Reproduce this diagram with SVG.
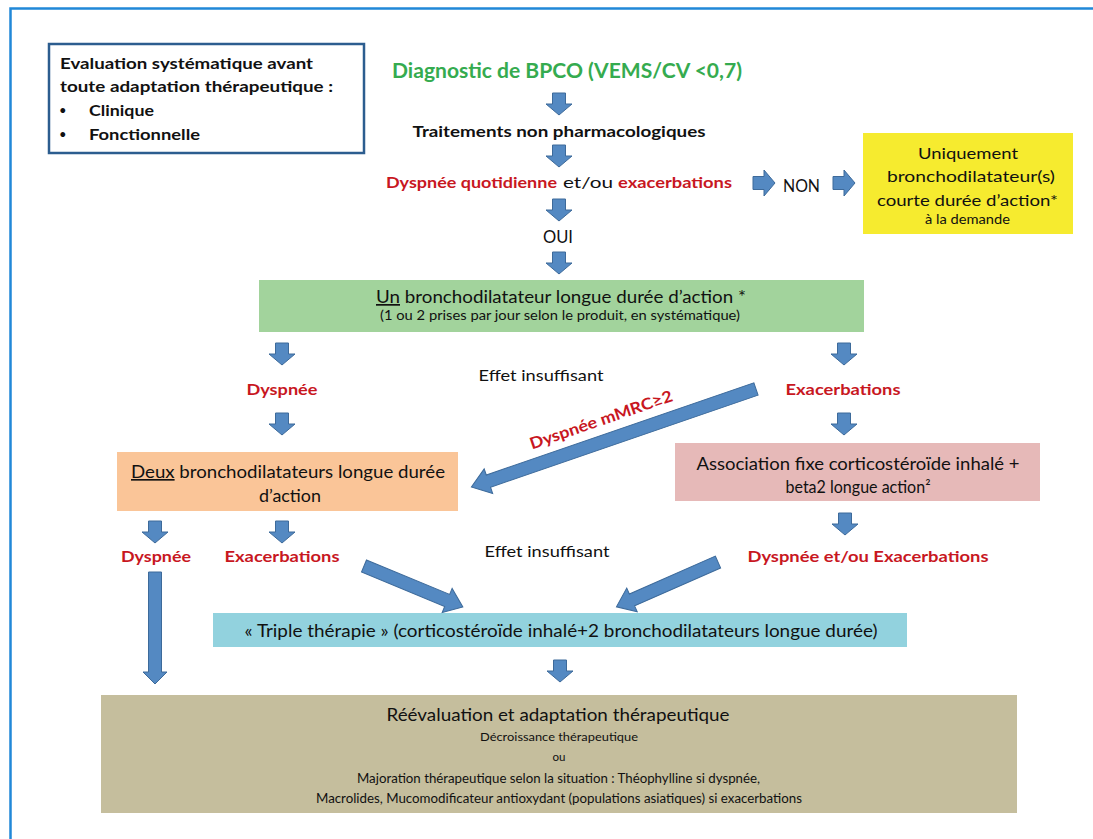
<svg xmlns="http://www.w3.org/2000/svg" xmlns:xlink="http://www.w3.org/1999/xlink" width="1093" height="839" viewBox="0 0 1093 839">
<style>
text{font-family:Lato,'Open Sans','DejaVu Sans',sans-serif;fill:#111}
.b{font-weight:bold}
.r{fill:#c8171f}
.g{fill:#35ab4f}
.m{text-anchor:middle}
.arr{fill:#5489c2;stroke:#3d6a9a;stroke-width:1}
.u{text-decoration:underline}
</style>
<defs>
<path id="dn" d="M-6.5,0 H6.5 V11 H13 L0,22 L-13,11 H-6.5 Z"/>
<path id="rt" d="M0,-6.5 V6.5 H11 V13 L22,0 L11,-13 V-6.5 Z"/>
</defs>
<rect x="0" y="0" width="1093" height="839" fill="#fff"/>
<rect id="frame" x="10.5" y="8.5" width="1200" height="900" fill="none" stroke="#2188d8" stroke-width="2.5"/>

<g id="eval">
<rect x="49" y="44" width="315" height="109" fill="#fff" stroke="#2c5d8f" stroke-width="2.5"/>
<text class="b" x="60" y="69" font-size="15.5" textLength="253" lengthAdjust="spacingAndGlyphs">Evaluation systématique avant</text>
<text class="b" x="60" y="92" font-size="15.5" textLength="273" lengthAdjust="spacingAndGlyphs">toute adaptation thérapeutique :</text>
<text x="59" y="115" font-size="13">•</text>
<text class="b" x="89" y="116" font-size="15.5" textLength="65" lengthAdjust="spacingAndGlyphs">Clinique</text>
<text x="59" y="139" font-size="13">•</text>
<text class="b" x="89" y="140" font-size="15.5" textLength="111" lengthAdjust="spacingAndGlyphs">Fonctionnelle</text>
</g>

<g id="diag">
<text class="b g m" x="567" y="78" font-size="21" textLength="350" lengthAdjust="spacingAndGlyphs">Diagnostic de BPCO (VEMS/CV &lt;0,7)</text>
</g>
<g id="nonpharma">
<text class="b m" x="559" y="137" font-size="16" textLength="293" lengthAdjust="spacingAndGlyphs">Traitements non pharmacologiques</text>
</g>
<g id="question">
<text class="b r" x="386" y="188" font-size="16" textLength="171" lengthAdjust="spacingAndGlyphs">Dyspnée quotidienne</text>
<text x="563" y="188" font-size="16" textLength="50" lengthAdjust="spacingAndGlyphs">et/ou</text>
<text class="b r" x="618" y="188" font-size="16" textLength="114" lengthAdjust="spacingAndGlyphs">exacerbations</text>
</g>
<g id="oui"><text class="m" x="558" y="243" font-size="16.5" textLength="30" lengthAdjust="spacingAndGlyphs">OUI</text></g>
<g id="non"><text x="783" y="192" font-size="16.5" textLength="37" lengthAdjust="spacingAndGlyphs">NON</text></g>

<g id="uniquement">
<rect x="863" y="133" width="210" height="101" fill="#f6eb2f"/>
<text class="m" x="968" y="159" font-size="16" textLength="100" lengthAdjust="spacingAndGlyphs">Uniquement</text>
<text class="m" x="971" y="182" font-size="16" textLength="168" lengthAdjust="spacingAndGlyphs">bronchodilatateur(s)</text>
<text class="m" x="967.5" y="205.5" font-size="16" textLength="181" lengthAdjust="spacingAndGlyphs">courte durée d’action*</text>
<text class="m" x="967.5" y="224" font-size="12.5" textLength="85" lengthAdjust="spacingAndGlyphs">à la demande</text>
</g>

<g id="un">
<rect x="259" y="280" width="605" height="52" fill="#a2d39c"/>
<text class="m" x="561" y="303" font-size="17" textLength="370" lengthAdjust="spacingAndGlyphs"><tspan class="u">Un</tspan> bronchodilatateur longue durée d’action *</text>
<text class="m" x="560" y="320" font-size="12.5" textLength="360" lengthAdjust="spacingAndGlyphs">(1 ou 2 prises par jour selon le produit, en systématique)</text>
</g>

<g id="labels1">
<text class="b r m" x="282" y="395" font-size="16" textLength="71" lengthAdjust="spacingAndGlyphs">Dyspnée</text>
<text class="m" x="541" y="381" font-size="16" textLength="125" lengthAdjust="spacingAndGlyphs">Effet insuffisant</text>
<text class="b r m" x="843" y="395" font-size="16" textLength="115" lengthAdjust="spacingAndGlyphs">Exacerbations</text>
<text class="b r m" transform="translate(603,425) rotate(-19)" font-size="16" textLength="150" lengthAdjust="spacingAndGlyphs">Dyspnée mMRC≥2</text>
</g>

<g id="deux">
<rect x="117" y="452" width="341" height="59" fill="#fac598"/>
<text class="m" x="288" y="478" font-size="16.5" textLength="314" lengthAdjust="spacingAndGlyphs"><tspan class="u">Deux</tspan> bronchodilatateurs longue durée</text>
<text class="m" x="290" y="502" font-size="16.5" textLength="62" lengthAdjust="spacingAndGlyphs">d’action</text>
</g>

<g id="association">
<rect x="675" y="443" width="365" height="58" fill="#e6b9b8"/>
<text class="m" x="858" y="470" font-size="16.5" textLength="323" lengthAdjust="spacingAndGlyphs">Association fixe corticostéroïde inhalé +</text>
<text class="m" x="858" y="493" font-size="16.5" textLength="145" lengthAdjust="spacingAndGlyphs">beta2 longue action²</text>
</g>

<g id="labels2">
<text class="b r m" x="156" y="562" font-size="16" textLength="70" lengthAdjust="spacingAndGlyphs">Dyspnée</text>
<text class="b r m" x="282" y="562" font-size="16" textLength="115" lengthAdjust="spacingAndGlyphs">Exacerbations</text>
<text class="m" x="547" y="557" font-size="16" textLength="125" lengthAdjust="spacingAndGlyphs">Effet insuffisant</text>
<text class="b r m" x="868" y="562" font-size="16" textLength="241" lengthAdjust="spacingAndGlyphs">Dyspnée et/ou Exacerbations</text>
</g>

<g id="triple">
<rect x="213" y="613" width="694" height="34" fill="#92d2de"/>
<text class="m" x="561" y="637" font-size="16.5" textLength="633" lengthAdjust="spacingAndGlyphs">« Triple thérapie » (corticostéroïde inhalé+2 bronchodilatateurs longue durée)</text>
</g>

<g id="reevaluation">
<rect x="101" y="695" width="916" height="118" fill="#c5be9d"/>
<text class="m" x="558" y="721" font-size="17.5" textLength="343" lengthAdjust="spacingAndGlyphs">Réévaluation et adaptation thérapeutique</text>
<text class="m" x="559" y="741" font-size="12" textLength="158" lengthAdjust="spacingAndGlyphs">Décroissance thérapeutique</text>
<text class="m" x="559" y="761" font-size="12" textLength="13" lengthAdjust="spacingAndGlyphs">ou</text>
<text class="m" x="558.5" y="782.5" font-size="12.5" textLength="403" lengthAdjust="spacingAndGlyphs">Majoration thérapeutique selon la situation : Théophylline si dyspnée,</text>
<text class="m" x="559" y="802.5" font-size="12.5" textLength="486" lengthAdjust="spacingAndGlyphs">Macrolides, Mucomodificateur antioxydant (populations asiatiques) si exacerbations</text>
</g>

<g id="connectors" class="arr">
<use xlink:href="#dn" x="559" y="93"/>
<use xlink:href="#dn" x="559" y="145"/>
<use xlink:href="#dn" x="559" y="199"/>
<use xlink:href="#dn" x="559" y="252"/>
<use xlink:href="#rt" x="753" y="183"/>
<use xlink:href="#rt" x="833" y="183"/>
<use xlink:href="#dn" x="282" y="343"/>
<use xlink:href="#dn" x="844" y="343"/>
<use xlink:href="#dn" x="282" y="413"/>
<use xlink:href="#dn" x="844" y="413"/>
<use xlink:href="#dn" x="155" y="521"/>
<use xlink:href="#dn" x="282" y="521"/>
<use xlink:href="#dn" x="845" y="513"/>
<use xlink:href="#dn" x="560" y="660"/>
<path transform="translate(155,572)" d="M-6.5,0 H6.5 V100 H12 L0,112 L-12,100 H-6.5 Z"/>
<path transform="translate(756,389) rotate(161)" d="M0,-6.5 H283 V-13 L301,0 L283,13 V6.5 H0 Z"/>
<path transform="translate(364,566) rotate(22.5)" d="M0,-6.5 H90 V-13 L107,0 L90,13 V6.5 H0 Z"/>
<path transform="translate(718,562) rotate(156.2)" d="M0,-6.5 H94 V-13 L111,0 L94,13 V6.5 H0 Z"/>
</g>
</svg>
